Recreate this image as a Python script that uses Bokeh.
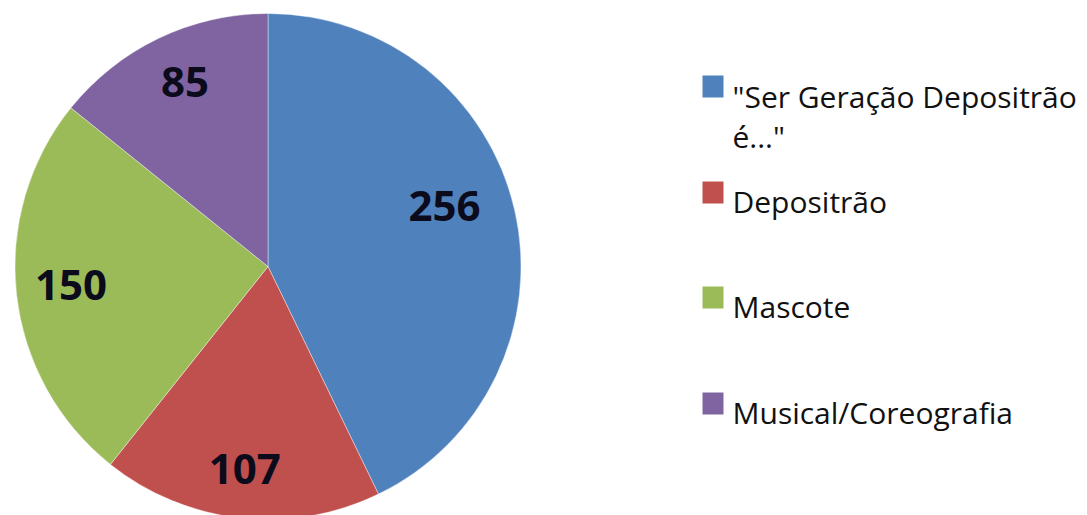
import math
from bokeh.plotting import figure
from bokeh.models import Range1d, ColumnDataSource
from bokeh.core.properties import value
from bokeh.embed import file_html
from bokeh.resources import INLINE

# ---- data ----
categories = ['"Ser Geração Depositrão é..."', "Depositrão", "Mascote", "Musical/Coreografia"]
legend_lines = [['"Ser Geração Depositrão', 'é..."'], ["Depositrão"], ["Mascote"], ["Musical/Coreografia"]]
counts = [256, 107, 150, 85]
colors = ["#4F81BD", "#C0504D", "#9BBB59", "#8064A2"]

# ---- layout ----
W, H = 1087, 515
cx, cy, R = 267.5, 249, 253
label_frac = [0.737, 0.807, 0.782, 0.80]
label_nudge_deg = [5.9, -0.2, -0.85, -1.4]

total = sum(counts)
starts, ends, lx, ly = [], [], [], []
cum = 0.0
for i, c in enumerate(counts):
    a0 = math.pi / 2 - 2 * math.pi * cum / total
    cum += c
    a1 = math.pi / 2 - 2 * math.pi * cum / total
    starts.append(a0)
    ends.append(a1)
    mid = (a0 + a1) / 2 + math.radians(label_nudge_deg[i])
    lx.append(cx + label_frac[i] * R * math.cos(mid))
    ly.append(cy + label_frac[i] * R * math.sin(mid))

p = figure(width=W, height=H, output_backend="svg", toolbar_location=None,
           x_range=Range1d(0, W), y_range=Range1d(0, H),
           x_axis_type=None, y_axis_type=None, min_border=0)
p.outline_line_color = None
p.grid.visible = False
p.background_fill_color = "white"
p.border_fill_color = "white"

src = ColumnDataSource(dict(start=starts, end=ends, color=colors,
                            lx=lx, ly=ly, txt=[str(c) for c in counts]))
p.wedge(x=cx, y=cy, radius=R, start_angle="start", end_angle="end",
        direction="clock", fill_color="color", line_color="white",
        line_width=0.8, line_alpha=0.5, source=src)
p.text(x="lx", y="ly", text="txt", source=src, text_font=value("Open Sans"),
       text_font_style="bold", text_font_size="42px", text_color="#0b0b1c",
       text_align="center", text_baseline="middle")

# legend (manual)
sq_x = 712.5
sq_y = [429, 323, 218, 112]
base_y = [[419, 379], [314], [209], [103]]
tx, ty, tt = [], [], []
for i, lines in enumerate(legend_lines):
    for j, s in enumerate(lines):
        tx.append(732)
        ty.append(base_y[i][j])
        tt.append(s)
p.rect(x=[sq_x] * 4, y=sq_y, width=21, height=22, fill_color=colors, line_color=None)
p.text(x=tx, y=ty, text=tt, text_font=value("Open Sans"), text_font_size="30px",
       text_color="#111111", text_align="left", text_baseline="alphabetic")

open("out.html", "w").write(file_html(p, INLINE))
